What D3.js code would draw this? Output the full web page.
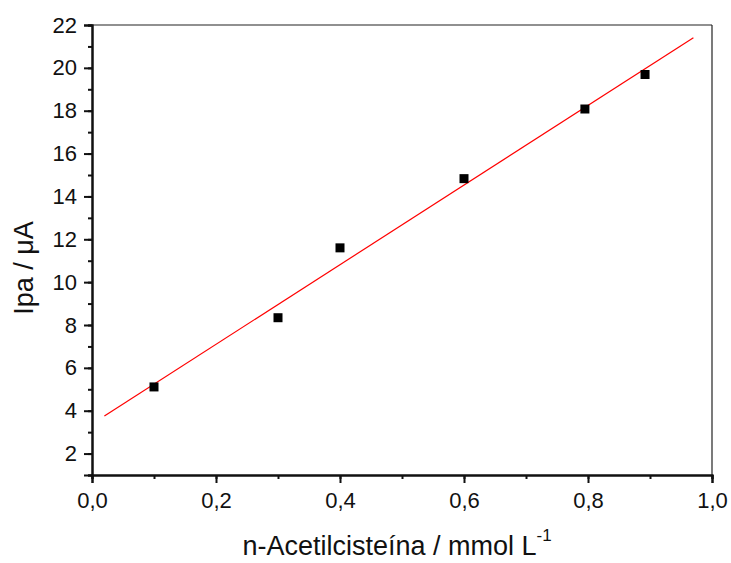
<!DOCTYPE html>
<html><head><meta charset="utf-8">
<script src="https://cdn.jsdelivr.net/npm/d3@7/dist/d3.min.js"></script>
<style>body{margin:0;background:#fff}svg{display:block}text{font-family:"Liberation Sans",Arial,sans-serif}</style>
</head><body>
<script>
const concentrations = [0.1, 0.3, 0.4, 0.6, 0.795, 0.892];
const currents = [5.11, 8.34, 11.6, 14.83, 18.08, 19.69];
const fitRange = [0.02, 0.97];
const xTicks = [0, 0.2, 0.4, 0.6, 0.8, 1.0];
const yTicks = [2, 4, 6, 8, 10, 12, 14, 16, 18, 20, 22];
const xLabel = "n-Acetilcisteína / mmol L";
const yLabel = "Ipa / μA";

const W = 731, H = 563;
const m = {l: 92, r: 19, t: 25, b: 88};
const svg = d3.select("body").append("svg").attr("width", W).attr("height", H);
const x = d3.scaleLinear().domain([0, 1]).range([m.l, W - m.r]);
const y = d3.scaleLinear().domain([1, 22]).range([H - m.b, m.t]);

// frame top/right
svg.append("line").attr("x1", x(0)).attr("x2", x(1)).attr("y1", y(22)).attr("y2", y(22)).attr("stroke", "#222").attr("stroke-width", 1.2);
svg.append("line").attr("x1", x(1)).attr("x2", x(1)).attr("y1", y(22)).attr("y2", y(1)).attr("stroke", "#222").attr("stroke-width", 1.2);

const fmt = d => d3.format(".1f")(d).replace(".", ",");
// x axis
const gx = svg.append("g").attr("transform", `translate(0,${y(1)})`);
gx.call(d3.axisBottom(x).tickValues(d3.range(0, 1.001, 0.1)).tickSize(4).tickFormat(""));
const gx2 = svg.append("g").attr("transform", `translate(0,${y(1)})`);
gx2.call(d3.axisBottom(x).tickValues(xTicks).tickSize(8).tickPadding(9).tickFormat(fmt));
[gx, gx2].forEach(g => { g.select(".domain").attr("stroke-width", 2).attr("stroke", "#111"); g.selectAll(".tick line").attr("stroke-width", 2).attr("stroke", "#111"); });
gx2.selectAll("text").attr("font-size", 22).attr("fill", "#111").attr("font-family", "Liberation Sans, Arial");

// y axis
const gy = svg.append("g").attr("transform", `translate(${x(0)},0)`);
gy.call(d3.axisLeft(y).tickValues(d3.range(1, 22.1, 1)).tickSize(4).tickFormat(""));
const gy2 = svg.append("g").attr("transform", `translate(${x(0)},0)`);
gy2.call(d3.axisLeft(y).tickValues(yTicks).tickSize(8).tickPadding(7).tickFormat(d3.format("d")));
[gy, gy2].forEach(g => { g.select(".domain").attr("stroke-width", 2).attr("stroke", "#111"); g.selectAll(".tick line").attr("stroke-width", 2).attr("stroke", "#111"); });
gy2.selectAll("text").attr("font-size", 22).attr("fill", "#111").attr("font-family", "Liberation Sans, Arial");

// linear fit
const n = concentrations.length;
const mx = d3.mean(concentrations), my = d3.mean(currents);
let sxy = 0, sxx = 0;
for (let i = 0; i < n; i++) { sxy += (concentrations[i]-mx)*(currents[i]-my); sxx += (concentrations[i]-mx)**2; }
const slope = sxy / sxx, icpt = my - slope * mx;
svg.append("line").attr("x1", x(fitRange[0])).attr("y1", y(icpt + slope*fitRange[0]))
  .attr("x2", x(fitRange[1])).attr("y2", y(icpt + slope*fitRange[1]))
  .attr("stroke", "#ff0000").attr("stroke-width", 1.2);

// points
const s = 9;
svg.selectAll("rect.pt").data(concentrations).enter().append("rect")
  .attr("x", d => x(d) - s/2).attr("y", (d, i) => y(currents[i]) - s/2)
  .attr("width", s).attr("height", s).attr("fill", "#000");

// titles
const xt = svg.append("text").attr("x", 397).attr("y", 555).attr("text-anchor", "middle")
  .attr("font-size", 27).attr("fill", "#111");
xt.append("tspan").text(xLabel);
xt.append("tspan").attr("dy", -14).attr("font-size", 17).text("-1");
svg.append("text").attr("transform", `translate(33,268) rotate(-90)`).attr("text-anchor", "middle")
  .attr("font-size", 27).attr("fill", "#111").text(yLabel);
</script>
</body></html>
